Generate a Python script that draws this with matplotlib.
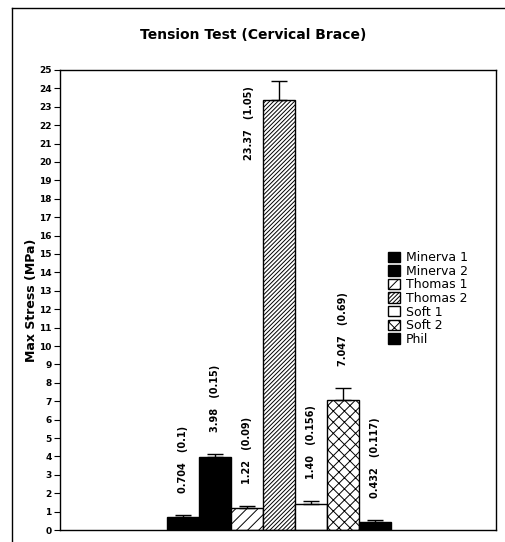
import matplotlib
matplotlib.use("Agg")
import matplotlib.pyplot as plt
from matplotlib.lines import Line2D

names = ["Minerva 1", "Minerva 2", "Thomas 1", "Thomas 2", "Soft 1", "Soft 2", "Phil"]
stress = [0.704, 3.98, 1.22, 23.37, 1.40, 7.047, 0.432]
err = [0.1, 0.15, 0.09, 1.05, 0.156, 0.69, 0.117]
val_txt = ["0.704", "3.98", "1.22", "23.37", "1.40", "7.047", "0.432"]
err_txt = ["(0.1)", "(0.15)", "(0.09)", "(1.05)", "(0.156)", "(0.69)", "(0.117)"]

colors = ["black", "black", "white", "white", "white", "white", "black"]
hatches = [None, None, "///", "////////", None, "xxx", None]

plt.rcParams["font.family"] = "DejaVu Sans"
plt.rcParams["hatch.linewidth"] = 0.7

fig = plt.figure(figsize=(5.05, 5.42), dpi=100)
ax = fig.add_axes([60 / 505, 12 / 542, 436 / 505, 460 / 542])

x = list(range(len(names)))
bars = ax.bar(x, stress, width=1.0, color=colors, edgecolor="black",
              linewidth=1.0, hatch=hatches, label=names)
ax.errorbar(x, stress, yerr=[[0] * len(err), err], fmt="none",
            ecolor="black", elinewidth=1.0, capsize=6, capthick=1.0)

for i in range(len(names)):
    label = val_txt[i] + "   " + err_txt[i]
    if i == 3:
        ax.text(i - 0.95, 20.1, label, rotation=90, ha="center", va="bottom",
                fontsize=7, fontweight="bold")
    else:
        ax.text(i, stress[i] + err[i] + 1.2, label, rotation=90, ha="center",
                va="bottom", fontsize=7, fontweight="bold")

ax.set_xlim(-3.84, 9.78)
ax.set_ylim(0, 25)
ax.set_yticks(range(0, 26))
ax.set_xticks([])
ax.tick_params(axis="y", direction="out", length=4, labelsize=6.5, pad=2)
for t in ax.get_yticklabels():
    t.set_fontweight("bold")
for s in ax.spines.values():
    s.set_linewidth(1.0)

ax.set_ylabel("Max Stress (MPa)", fontsize=9, fontweight="bold", labelpad=1)

ax.legend(loc="upper left", bbox_to_anchor=(322 / 436, 0.62), frameon=False,
          fontsize=9, handlelength=0.9, handleheight=0.9, handletextpad=0.5,
          labelspacing=0.05, borderpad=0)

fig.text(253 / 505, 1 - 35 / 542, "Tension Test (Cervical Brace)", ha="center",
         va="center", fontsize=10, fontweight="bold")

# outer frame
fig.add_artist(Line2D([12 / 505, 12 / 505], [0, 1 - 8 / 542], color="black",
                      linewidth=1.0, transform=fig.transFigure))
fig.add_artist(Line2D([12 / 505, 1], [1 - 8 / 542, 1 - 8 / 542], color="black",
                      linewidth=1.0, transform=fig.transFigure))

fig.savefig("out.png", dpi=100)
